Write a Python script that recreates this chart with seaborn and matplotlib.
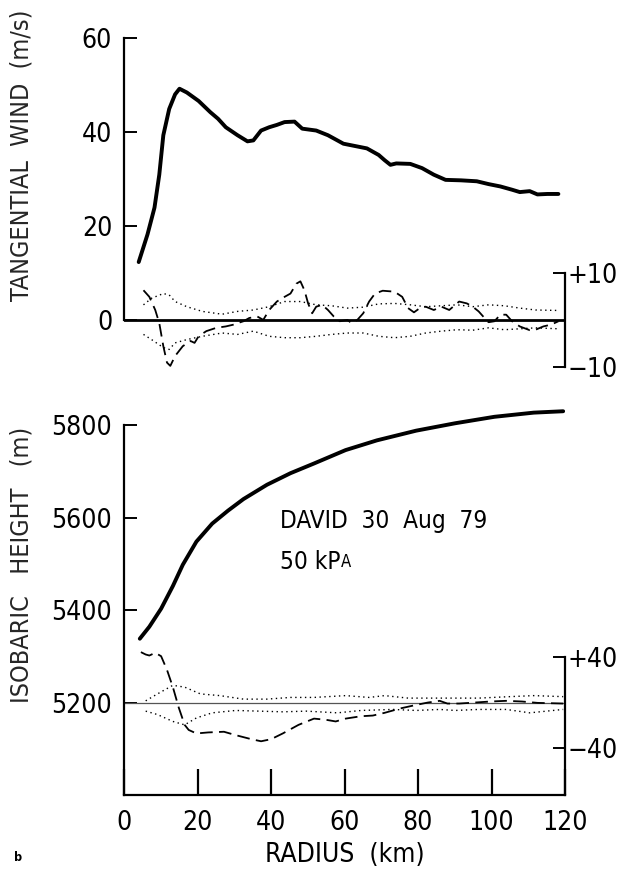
import numpy as np
import pandas as pd
import seaborn as sns
import matplotlib.pyplot as plt

# --- dados ---
# vento tangencial (m/s) x raio (km)
r_vt = [4.0, 6.4, 8.3, 9.6, 10.7, 12.3, 13.9, 15.1, 17.1, 20.3, 23.5, 25.6, 27.7, 30.9,
        33.6, 35.2, 37.3, 39.5, 41.6, 43.7, 46.4, 48.5, 52.3, 55.5, 59.7, 62.9, 66.1,
        69.3, 70.9, 72.5, 74.1, 77.9, 81.1, 84.3, 87.5, 91.7, 96.0, 99.2, 102.4, 105.6,
        107.7, 110.4, 112.5, 115.2, 118.2]
vt = [12.4, 18.3, 24.0, 31.0, 39.4, 45.0, 48.1, 49.3, 48.5, 46.7, 44.3, 42.9, 41.1, 39.4,
      38.1, 38.3, 40.4, 41.1, 41.6, 42.2, 42.3, 40.8, 40.4, 39.4, 37.6, 37.1, 36.6,
      35.2, 34.1, 33.1, 33.4, 33.3, 32.4, 31.0, 29.9, 29.8, 29.6, 29.0, 28.5, 27.8,
      27.3, 27.5, 26.8, 26.9, 26.9]

# perturbacao do vento (tracejado)
r_vd = [5.3, 6.9, 8.5, 9.6, 10.7, 11.7, 12.6, 13.9, 16.0, 18.1, 19.2, 20.3, 22.4, 25.1,
        27.7, 29.9, 30.9, 32.5, 34.1, 36.3, 37.9, 39.5, 41.6, 43.7, 45.3, 46.9, 48.0,
        49.1, 50.1, 51.2, 52.3, 53.9, 55.5, 57.1, 58.7, 60.8, 61.9, 63.5, 65.1, 66.7,
        68.3, 70.4, 73.6, 75.7, 77.3, 78.9, 80.5, 82.1, 84.3, 86.4, 88.5, 91.2, 93.3,
        94.9, 96.5, 98.1, 99.2, 100.8, 102.4, 104.0, 105.6, 107.7, 110.4, 112.0, 114.1,
        116.3, 118.2]
vd = [6.4, 5.0, 2.2, -0.6, -5.5, -9.0, -9.7, -7.6, -5.5, -4.4, -4.8, -3.4, -2.3, -1.6,
      -1.3, -0.9, -0.6, -0.2, 0.5, 0.8, 0.1, 2.2, 4.0, 5.0, 5.7, 7.8, 8.3,
      6.4, 3.6, 1.5, 2.9, 3.3, 2.2, 0.8, -0.2, 0.1, -0.6, 0.1, 1.5, 4.0,
      5.7, 6.3, 6.1, 5.0, 2.6, 1.7, 2.6, 2.9, 2.2, 2.9, 2.2, 4.0, 3.6,
      2.9, 1.9, 0.5, -0.4, -0.2, 1.2, 1.2, -0.2, -1.3, -2.1, -2.0, -1.3,
      -0.9, -0.2]

# envelopes pontilhados (vento)
r_env = [5.3, 7.5, 10.7, 12.3, 13.9, 17.1, 21.3, 26.7, 30.9, 35.2, 39.5, 43.7, 48.0,
         52.3, 56.5, 60.8, 65.1, 69.3, 73.6, 77.9, 82.1, 86.4, 90.6, 94.9, 99.2,
         103.5, 107.7, 112.0, 118.2]
v_sup = [3.3, 4.7, 5.7, 5.4, 4.0, 2.9, 1.9, 1.3, 1.9, 2.2, 2.9, 4.0, 4.0,
         3.3, 3.1, 2.6, 2.8, 3.5, 3.6, 3.3, 2.9, 3.1, 3.3, 2.9, 3.3,
         3.1, 2.6, 2.2, 2.1]
v_inf = [-3.0, -4.1, -5.8, -6.2, -4.8, -4.1, -3.4, -2.7, -3.0, -2.3, -3.4, -3.7, -3.7,
         -3.4, -3.0, -2.7, -2.7, -3.4, -3.7, -3.4, -2.7, -2.3, -2.0, -2.1, -1.6,
         -2.0, -1.8, -1.6, -1.8]

# altura isobarica (m)
r_z = [4.3, 6.9, 10.1, 13.3, 16.0, 19.7, 24.0, 28.3, 32.5, 38.9, 45.3, 51.7, 60.3,
       68.8, 79.5, 90.1, 100.8, 111.5, 119.5]
z = [5338, 5364, 5403, 5452, 5498, 5548, 5587, 5615, 5640, 5671, 5696, 5717, 5746,
     5767, 5788, 5804, 5818, 5827, 5830]

# perturbacao da altura (tracejado)
r_zd = [4.6, 5.9, 6.9, 8.5, 10.1, 11.7, 13.3, 14.9, 16.5, 17.6, 19.7, 22.9, 27.2, 30.4,
        34.7, 37.3, 40.0, 43.2, 47.5, 51.7, 54.9, 57.6, 60.3, 64.5, 67.7, 70.9, 75.2,
        79.5, 82.7, 85.9, 88.0, 91.2, 95.5, 99.7, 104.0, 108.3, 112.5, 119.5]
zd = [44.5, 42.4, 41.5, 43.9, 40.9, 28.8, 13.6, -4.5, -19.7, -24.2, -27.3, -26.4, -25.8,
      -28.8, -32.4, -34.2, -32.4, -27.3, -19.7, -14.2, -15.2, -16.7, -14.2, -12.1, -11.5,
      -9.1, -5.2, -2.1, 0.0, 1.5, -0.9, -0.9, 0.0, 0.9, 1.5, 0.9, -0.3, -0.9]

# envelopes pontilhados (altura)
r_zs = [5.9, 9.1, 13.3, 16.5, 20.8, 26.1, 32.5, 38.9, 45.3, 51.7, 60.3, 66.7, 70.9,
        77.3, 83.7, 90.1, 96.5, 105.0, 111.5, 119.5]
z_sup = [1.5, 7.6, 15.2, 13.6, 7.6, 6.1, 3.0, 3.0, 4.5, 4.5, 6.1, 4.5, 6.1,
         3.9, 3.9, 3.9, 3.9, 5.2, 6.1, 5.2]
r_zi = [5.9, 9.1, 13.3, 16.5, 19.7, 24.0, 30.4, 36.8, 43.2, 49.6, 58.1, 64.5, 73.1,
        79.5, 85.9, 90.1, 96.5, 104.0, 110.4, 119.5]
z_inf = [-7.6, -10.6, -16.7, -19.7, -13.6, -9.1, -7.0, -7.6, -8.2, -7.6, -9.1, -7.0, -6.1,
         -7.0, -6.1, -7.0, -6.1, -6.1, -9.1, -6.1]

sns.set_style('ticks')
plt.rcParams['font.family'] = ['DejaVu Sans']
plt.rcParams['font.stretch'] = 'condensed'
plt.rcParams['axes.linewidth'] = 1.6
plt.rcParams['text.color'] = 'black'
plt.rcParams['xtick.color'] = 'black'
plt.rcParams['ytick.color'] = 'black'
plt.rcParams['axes.edgecolor'] = 'black'

fig = plt.figure(figsize=(6.17, 8.71), dpi=100)
W, H = 617, 871

def px_axes(x0, x1, ytop, ybot):
    return fig.add_axes([x0 / W, 1 - ybot / H, (x1 - x0) / W, (ybot - ytop) / H])

tick_fs = 19
lab_fs = 18
k = 'black'

# ---------------- painel superior ----------------
ax1 = px_axes(124, 565, 28.6, 372)
ax1.set_xlim(0, 120)
ax1.set_ylim(-11, 62.1)
sns.lineplot(x=r_vt, y=vt, ax=ax1, color=k, lw=2.8, sort=False)
ax1.axhline(0, color=k, lw=2)
ax1.spines['left'].set_bounds(0, 60)
for s in ['top', 'right', 'bottom']:
    ax1.spines[s].set_visible(False)
ax1.set_xticks([])
ax1.set_yticks([0, 20, 40, 60])
ax1.tick_params(axis='y', direction='in', length=9, width=1.4, labelsize=tick_fs, pad=8.5)
ax1.set_ylabel('TANGENTIAL  WIND  (m/s)', fontsize=lab_fs)
ax1.yaxis.set_label_coords(-0.206, 0.632)

ax1b = ax1.twinx()
ax1b.set_ylim(-11, 62.1)
sns.lineplot(x=r_vd, y=vd, ax=ax1b, color=k, lw=1.3, sort=False)
ax1b.lines[-1].set_dashes([7, 3.5])
sns.lineplot(x=r_env, y=v_sup, ax=ax1b, color=k, lw=1, sort=False)
ax1b.lines[-1].set_dashes([1, 2.5])
sns.lineplot(x=r_env, y=v_inf, ax=ax1b, color=k, lw=1, sort=False)
ax1b.lines[-1].set_dashes([1, 2.5])
for s in ['top', 'left', 'bottom']:
    ax1b.spines[s].set_visible(False)
ax1b.spines['right'].set_bounds(-10, 10)
ax1b.set_yticks([-10, 10])
ax1b.set_yticklabels(['\u221210', '+10'])
ax1b.tick_params(axis='y', direction='in', length=9, width=1.4, labelsize=tick_fs, pad=2)
ax1b.set_xlim(0, 120)

# ---------------- painel inferior ----------------
ax2 = px_axes(124, 565, 402, 795)
ax2.set_xlim(0, 120)
ax2.set_ylim(5000, 5850)
ax2.axhline(5200, color='#555555', lw=0.9)
sns.lineplot(x=r_z, y=z, ax=ax2, color=k, lw=2.8, sort=False)
for s in ['top', 'right']:
    ax2.spines[s].set_visible(False)
ax2.spines['left'].set_bounds(5000, 5800)
ax2.spines['bottom'].set_bounds(0, 120)
ax2.set_yticks([5200, 5400, 5600, 5800])
ax2.tick_params(axis='y', direction='in', length=9, width=1.4, labelsize=tick_fs, pad=8.5)
ax2.set_xticks([0, 20, 40, 60, 80, 100, 120])
ax2.tick_params(axis='x', direction='in', length=19, width=1.6, labelsize=tick_fs, pad=11)
ax2.set_ylabel('ISOBARIC   HEIGHT   (m)', fontsize=lab_fs)
ax2.yaxis.set_label_coords(-0.206, 0.585)
ax2.text(42.5, 5592, 'DAVID  30  Aug  79', fontsize=17.5, va='center')
t50 = ax2.text(42.5, 5505, '50 kP', fontsize=17.5, va='center')
ax2.annotate('A', xy=(1, 0.12), xycoords=t50, fontsize=12, va='bottom', ha='left')

fac = 2.45
ax2b = ax2.twinx()
ax2b.set_ylim((5000 - 5200) / fac, (5850 - 5200) / fac)
sns.lineplot(x=r_zd, y=zd, ax=ax2b, color=k, lw=1.3, sort=False)
ax2b.lines[-1].set_dashes([7, 3.5])
sns.lineplot(x=r_zs, y=z_sup, ax=ax2b, color=k, lw=1, sort=False)
ax2b.lines[-1].set_dashes([1, 2.5])
sns.lineplot(x=r_zi, y=z_inf, ax=ax2b, color=k, lw=1, sort=False)
ax2b.lines[-1].set_dashes([1, 2.5])
for s in ['top', 'left', 'bottom']:
    ax2b.spines[s].set_visible(False)
ax2b.spines['right'].set_bounds((5000 - 5200) / fac, 40)
ax2b.set_yticks([-40, 40])
ax2b.set_yticklabels(['\u221240', '+40'])
ax2b.tick_params(axis='y', direction='in', length=9, width=1.4, labelsize=tick_fs, pad=2)
ax2b.set_xlim(0, 120)

fig.text(345 / W, 1 - 855 / H, 'RADIUS  (km)', fontsize=19, ha='center', va='center')
fig.text(14 / W, 1 - 857 / H, 'b', fontsize=9, fontweight='bold', va='center')

fig.savefig('out.png', dpi=100)
